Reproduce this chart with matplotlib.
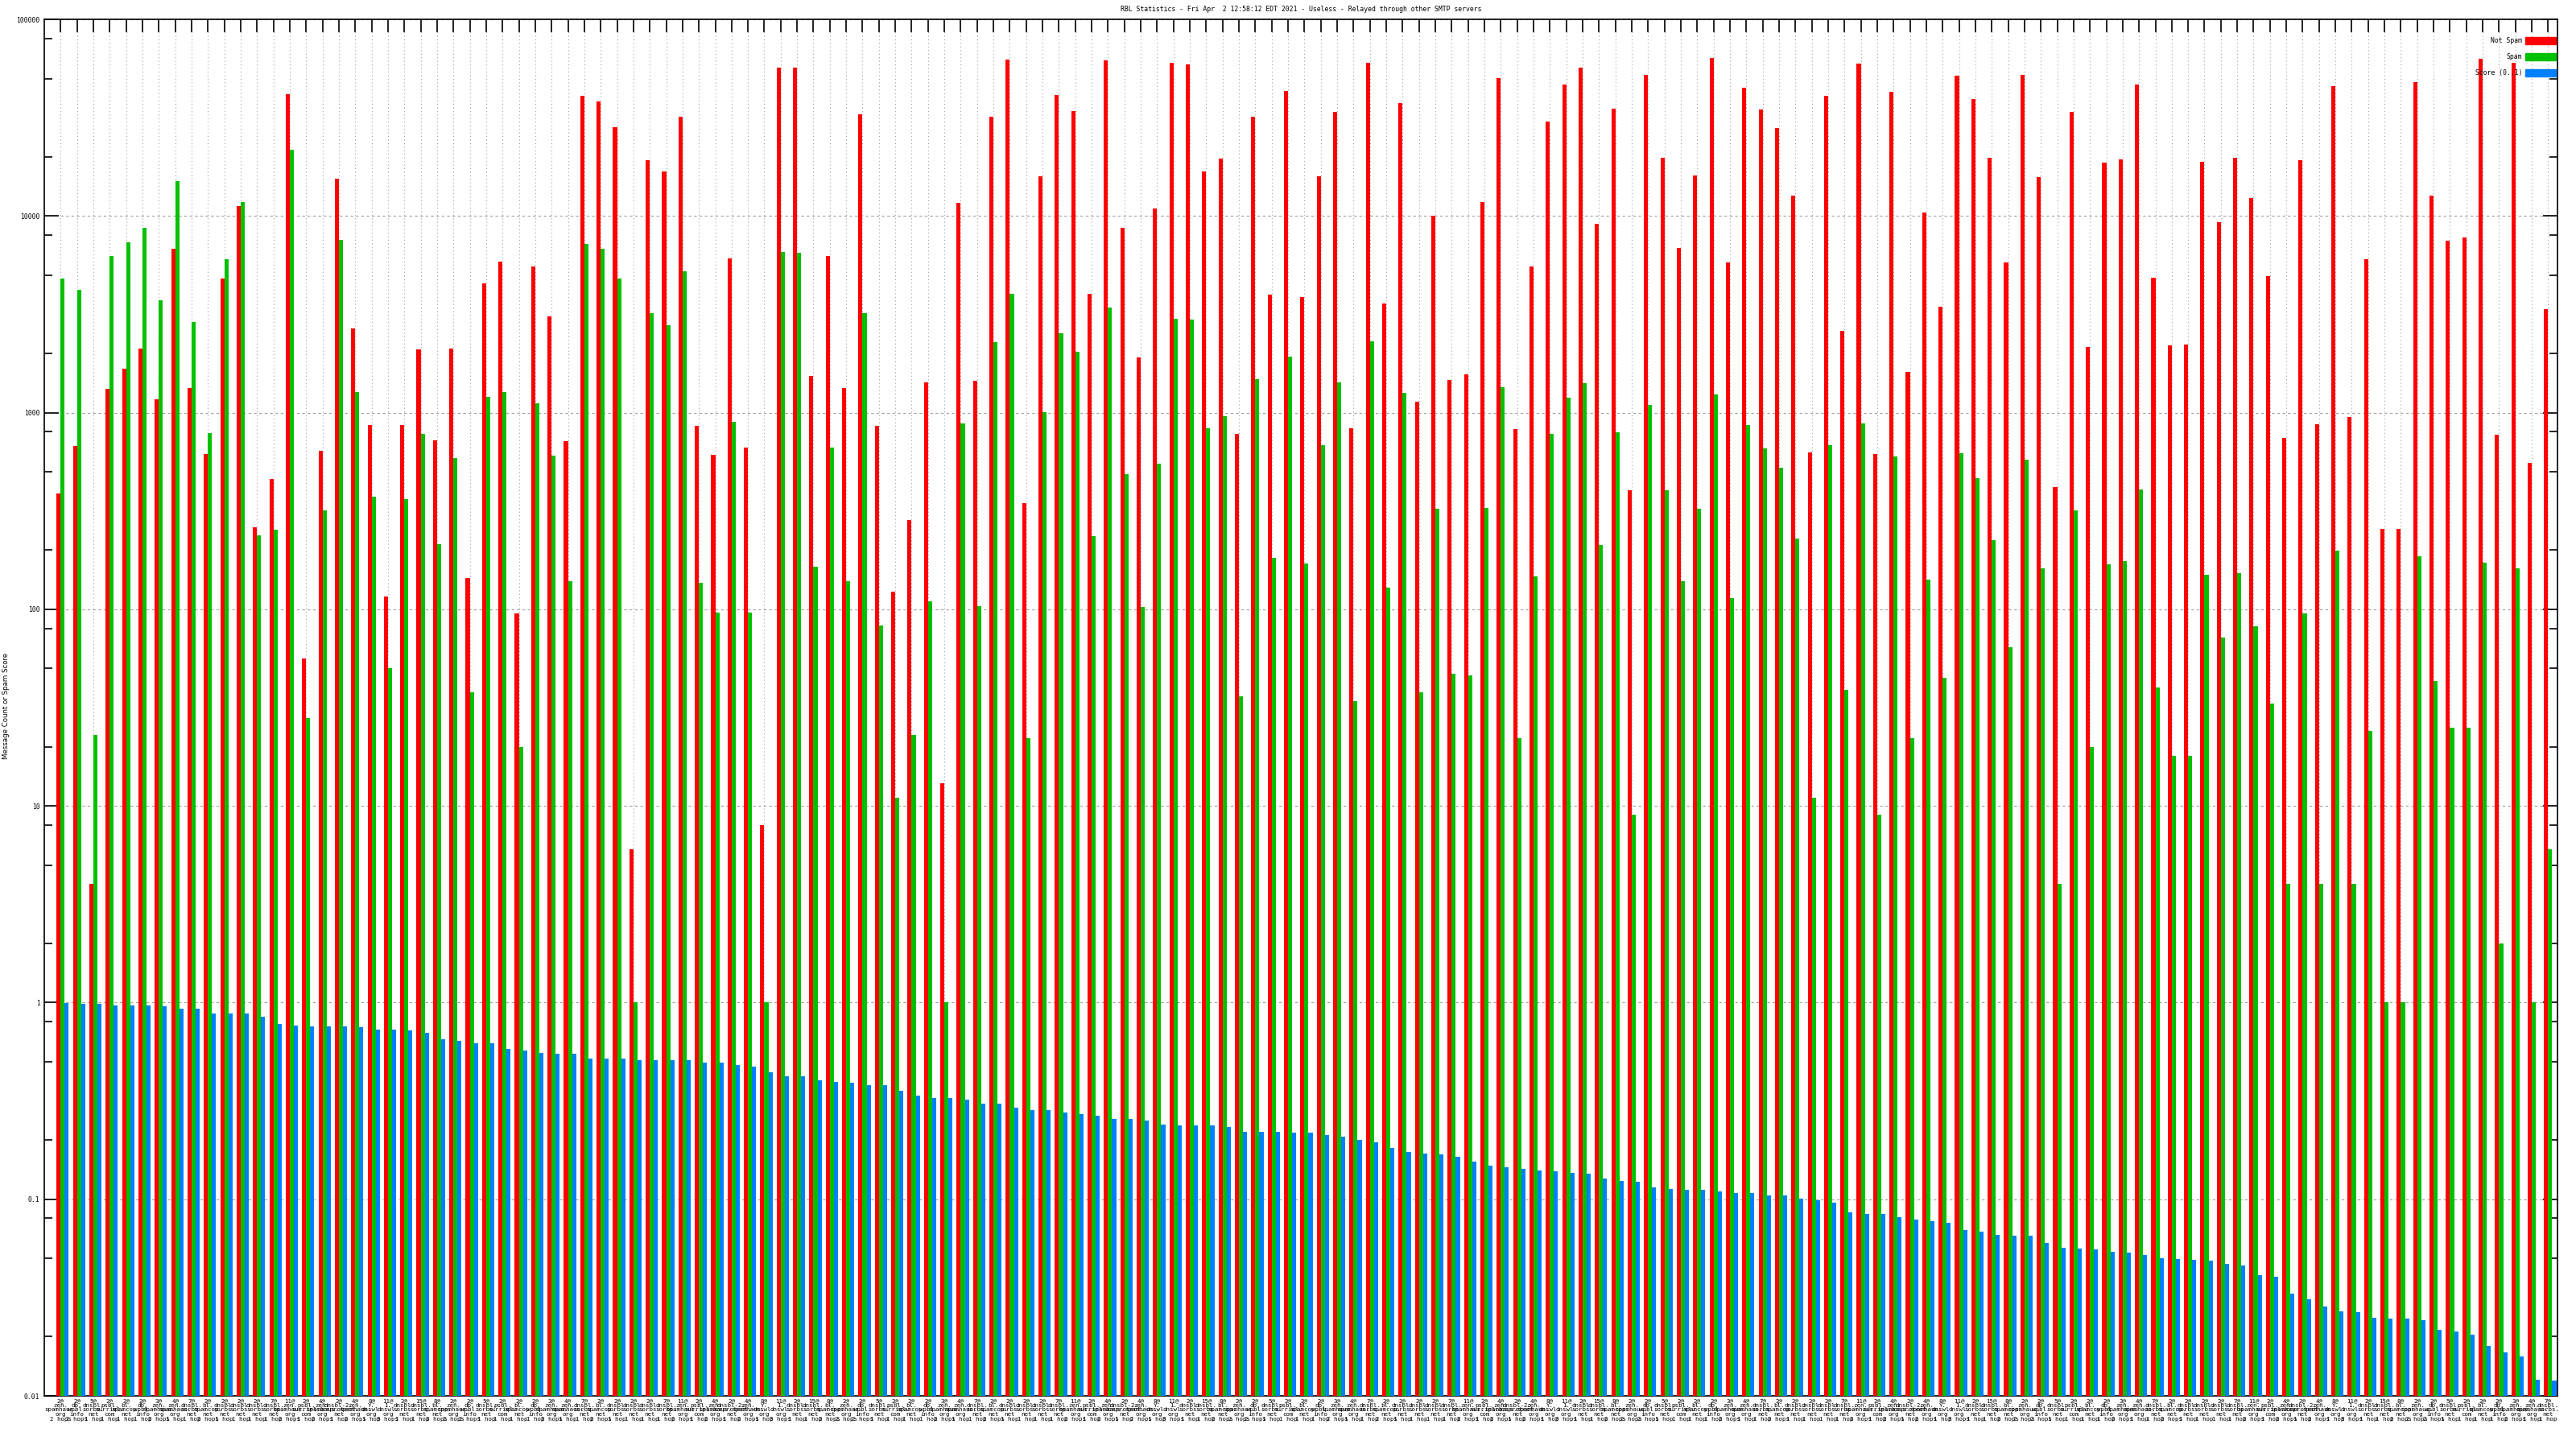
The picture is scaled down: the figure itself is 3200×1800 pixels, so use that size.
import matplotlib
matplotlib.use("Agg")
import matplotlib.pyplot as plt
from matplotlib.patches import Patch
from matplotlib.ticker import FixedLocator, NullFormatter
import numpy as np

# values, one entry per RBL / hop group
not_spam = [387, 676, 4, 1320, 1675, 2125, 1170, 6820, 1340, 616,
            4810, 11200, 261, 461, 41600, 56, 641, 15400, 2670, 865,
            116, 865, 2105, 726, 2125, 144, 4560, 5850, 95, 5550,
            3080, 719, 40700, 38300, 28400, 6, 19200, 16900, 32100, 857,
            609, 6090, 662, 8, 56700, 56700, 1530, 6280, 1340, 32800,
            857, 123, 284, 1420, 13, 11700, 1450, 32100, 62200, 345,
            15900, 41100, 34200, 4030, 61600, 8740, 1900, 10900, 60300, 59000,
            16800, 19600, 780, 32100, 3990, 43300, 3870, 15900, 33800, 830,
            60300, 3600, 37500, 1140, 10000, 1470, 1560, 11800, 50100, 822,
            5550, 30200, 46600, 56700, 9120, 35200, 403, 52200, 19800, 6900,
            16100, 63500, 5780, 44700, 34900, 28100, 12700, 628, 40700, 2610,
            59700, 616, 42900, 1610, 10400, 3450, 51600, 39500, 19800, 5780,
            52200, 15700, 420, 33800, 2150, 18600, 19400, 46600, 4850, 2190,
            2210, 18800, 9310, 19800, 12300, 4960, 741, 19200, 874, 45600,
            950, 6030, 256, 256, 48000, 12700, 7490, 7800, 62800, 773,
            60000, 555, 3350]

spam = [4810, 4200, 23, 6280, 7330, 8740, 3710, 15100, 2900, 788,
        6030, 11800, 238, 253, 21700, 28, 318, 7570, 1270, 375,
        50, 364, 780, 215, 590, 38, 1200, 1270, 20, 1110,
        603, 139, 7190, 6820, 4810, 1, 3210, 2780, 5220, 136,
        96, 902, 96, 1, 6550, 6480, 164, 662, 139, 3210,
        83, 11, 23, 110, 1, 883, 104, 2280, 4030, 22,
        1010, 2530, 2040, 236, 3420, 485, 103, 550, 2990, 2960,
        830, 960, 36, 1480, 182, 1920, 171, 682, 1420, 34,
        2310, 129, 1260, 38, 324, 47, 46, 328, 1350, 22,
        147, 780, 1190, 1410, 212, 796, 9, 1090, 403, 139,
        324, 1240, 114, 865, 655, 527, 229, 11, 682, 39,
        883, 9, 597, 22, 141, 45, 622, 466, 224, 64,
        578, 161, 4, 318, 20, 169, 175, 407, 40, 18,
        18, 150, 72, 153, 82, 33, 4, 95, 4, 198,
        4, 24, 1, 1, 186, 43, 25, 25, 173, 2,
        161, 1, 6]

score = [0.99, 0.98, 0.98, 0.97, 0.97, 0.97, 0.96, 0.93, 0.93, 0.88,
         0.88, 0.875, 0.85, 0.78, 0.765, 0.757, 0.757, 0.757, 0.75, 0.726,
         0.726, 0.72, 0.70, 0.65, 0.635, 0.62, 0.62, 0.58, 0.57, 0.555,
         0.55, 0.55, 0.52, 0.52, 0.516, 0.51, 0.51, 0.506, 0.506, 0.495,
         0.495, 0.48, 0.47, 0.44, 0.42, 0.42, 0.40, 0.395, 0.39, 0.38,
         0.38, 0.356, 0.335, 0.325, 0.325, 0.32, 0.305, 0.305, 0.29, 0.284,
         0.284, 0.275, 0.27, 0.264, 0.256, 0.256, 0.25, 0.238, 0.236, 0.236,
         0.236, 0.233, 0.22, 0.22, 0.22, 0.217, 0.217, 0.21, 0.208, 0.20,
         0.194, 0.182, 0.173, 0.17, 0.168, 0.164, 0.154, 0.147, 0.144, 0.142,
         0.139, 0.138, 0.135, 0.134, 0.127, 0.123, 0.122, 0.114, 0.112, 0.111,
         0.111, 0.109, 0.107, 0.107, 0.104, 0.104, 0.10, 0.098, 0.095, 0.085,
         0.083, 0.083, 0.0797, 0.078, 0.076, 0.075, 0.069, 0.0676, 0.065, 0.064,
         0.064, 0.059, 0.0555, 0.055, 0.0544, 0.0532, 0.0527, 0.051, 0.049, 0.0486,
         0.048, 0.0475, 0.046, 0.045, 0.040, 0.0395, 0.032, 0.030, 0.0275, 0.026,
         0.0256, 0.024, 0.0238, 0.0238, 0.0233, 0.0206, 0.0202, 0.0194, 0.017, 0.0157,
         0.0148, 0.0111, 0.011]

# tick labels (first ones, rest still rough)
hits = ["2@", "2@", "5@", "2@", "2@", "2@", "3@", "4@", "7@", "2@",
        "2@", "2@", "2@", "7@", "11@", "2@", "4@", "2@", "4@", "8@",
        "11@", "2@", "15@", "8@"]
rbls = ["zen.\nspamhaus.\norg", "db.\nwpbl.\ninfo", "dnsbl.\nsorbs.\nnet",
        "psbl.\nsurriel.\ncom", "bl.\nspamcop.\nnet", "db.\nwpbl.\ninfo",
        "zen.\nspamhaus.\norg", "zen.\nspamhaus.\norg", "dnsbl.\nsorbs.\nnet",
        "bl.\nspamcop.\nnet", "dnsbl.\nsorbs.\nnet", "dnsbl.\nsorbs.\nnet",
        "dnsbl.\nsorbs.\nnet", "dnsbl.\nsorbs.\nnet", "zen.\nspamhaus.\norg",
        "psbl.\nsurriel.\ncom", "zen.\nspamhaus.\norg", "dnsbl-2.\nuceprotect.\nnet",
        "zen.\nspamhaus.\norg", "Y.\ndnswl.\norg", "1.\ndnswl.\norg",
        "dnsbl.\nsorbs.\nnet", "dnsbl.\nsorbs.\nnet", "bl.\nspamcop.\nnet"]
hops = ["2 hops", "2 hops", "1 hop", "1 hop", "1 hop", "1 hop", "2 hops", "1 hop",
        "1 hop", "2 hops", "1 hop", "1 hop", "1 hop", "1 hop", "2 hops", "1 hop",
        "2 hops", "1 hop", "2 hops", "1 hop", "3 hops", "1 hop", "1 hop", "2 hops"]

labels = []
for i in range(len(not_spam)):
    k = i % len(hits)
    labels.append(hits[k] + "\n" + rbls[k] + "\n" + hops[k])

title = "RBL Statistics - Fri Apr  2 12:58:12 EDT 2021 - Useless - Relayed through other SMTP servers"

W, H = 3200, 1800
fig = plt.figure(figsize=(32, 18), dpi=100)
left, right, top, bottom = 55, 3177, 24, 1734
ax = fig.add_axes([left / W, 1 - bottom / H, (right - left) / W, (bottom - top) / H])

mono = "DejaVu Sans Mono"
x = np.arange(len(not_spam))
w = 0.25
ax.set_yscale("log")
ax.bar(x - w / 2, not_spam, w, bottom=0.001, color="#ff0000", zorder=3, linewidth=0)
ax.bar(x + w / 2, spam, w, bottom=0.001, color="#00c000", zorder=3, linewidth=0)
ax.bar(x + 1.5 * w, score, w, bottom=0.001, color="#0080ff", zorder=3, linewidth=0)

ax.set_xlim(-1.0, 152.57)
ax.set_ylim(0.01, 100000)

ax.set_xticks(x)
ax.set_xticklabels(labels, fontsize=5.3, family=mono, linespacing=0.95)
ax.tick_params(axis="x", which="major", direction="in", length=11.5, width=1.2,
               top=True, bottom=True, pad=2)

majors = [0.01, 0.1, 1, 10, 100, 1000, 10000, 100000]
minors = []
for m in majors[:-1]:
    minors += [2 * m, 5 * m, 8 * m]
ax.yaxis.set_major_locator(FixedLocator(majors))
ax.yaxis.set_minor_locator(FixedLocator(minors))
ax.yaxis.set_minor_formatter(NullFormatter())
ax.set_yticklabels(["0.01", "0.1", "1", "10", "100", "1000", "10000", "100000"],
                   fontsize=5.8, family=mono)
ax.tick_params(axis="y", which="major", direction="in", length=13, width=1.2,
               left=True, right=True, pad=4)
ax.tick_params(axis="y", which="minor", direction="in", length=7, width=1.2,
               left=True, right=True)

ax.set_axisbelow(True)
ax.grid(axis="x", which="major", color="#a0a0a0", linestyle=(0, (1, 3)), linewidth=0.8)
ax.grid(axis="y", which="major", color="#a0a0a0", linestyle=(0, (3, 3)), linewidth=0.8)
for s in ax.spines.values():
    s.set_linewidth(1.2)

fig.text(1616 / W, 1 - 11 / H, title, ha="center", va="center", fontsize=5.9, family=mono)
fig.text(8 / W, 1 - 877 / H, "Message Count or Spam Score", rotation=90,
         ha="center", va="center", fontsize=6.2, family="DejaVu Sans")

handles = [Patch(color="#ff0000", label="Not Spam"),
           Patch(color="#00c000", label="Spam"),
           Patch(color="#0080ff", label="Score (0..1)")]
ax.legend(handles=handles, loc="upper right", bbox_to_anchor=(1.0, 0.988),
          markerfirst=False, frameon=False, prop={"family": mono, "size": 5.8},
          handlelength=4.8, handleheight=1.3, labelspacing=1.35, handletextpad=0.4,
          borderpad=0.1, borderaxespad=0.1)

fig.savefig("out.png", dpi=100)
